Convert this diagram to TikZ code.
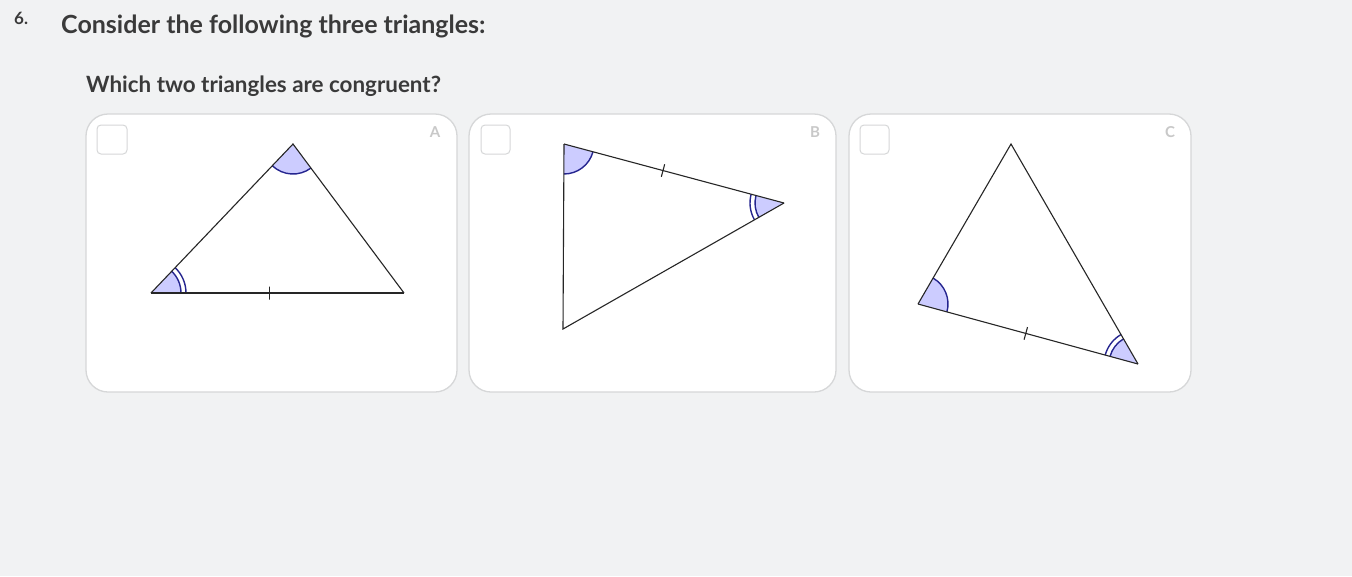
\documentclass[tikz,border=0pt]{standalone}
\usepackage{fontspec}
\setmainfont{Lato}
\definecolor{pagebg}{HTML}{F1F2F3}
\definecolor{cardline}{HTML}{D6D7D8}
\definecolor{textgray}{HTML}{3A3A3A}
\definecolor{lettergray}{HTML}{C8C8C8}
\definecolor{anglefill}{HTML}{CCCCFF}
\definecolor{arcblue}{HTML}{25258F}

\begin{document}
\begin{tikzpicture}[x=1pt, y=-1pt,
    card/.style={draw=cardline, line width=1.3pt, fill=white, rounded corners=22pt},
    checkbox/.style={draw=cardline, line width=1pt, fill=white, rounded corners=4pt},
    letter/.style={text=lettergray, inner sep=0pt, font=\fontsize{15}{15}\selectfont\bfseries},
    heading/.style={anchor=base west, inner sep=0pt, text=textgray},
    side/.style={draw=black!85, line width=1.1pt},
    arcline/.style={draw=arcblue, line width=1.4pt},
    tick/.style={draw=black!85, line width=1.1pt, sloped, inner sep=0pt, minimum width=0pt, minimum height=13pt}]
    % Page
    \fill[pagebg] (0,0) rectangle (1352,576);
    \useasboundingbox (0,0) rectangle (1352,576);

    % Question text
    \node[heading, font=\fontsize{17}{17}\selectfont\bfseries] (num) at (14,24) {6.};
    \node[heading, font=\fontsize{25}{25}\selectfont\bfseries] (title) at (61,33) {Consider the following three triangles:};
    \node[heading, font=\fontsize{22.4}{22.4}\selectfont\bfseries] (question) at (86,92) {Which two triangles are congruent?};

    % Cards
    \draw[card] (86,114) rectangle (457,392);
    \draw[card] (469,114) rectangle (836,392);
    \draw[card] (849,114) rectangle (1191,392);
    \draw[checkbox] (97,125) rectangle (127,154);
    \draw[checkbox] (481,125) rectangle (510,154);
    \draw[checkbox] (860,125) rectangle (889,154);
    \node[letter] (labA) at (435,132) {A};
    \node[letter] (labB) at (815,132) {B};
    \node[letter] (labC) at (1170,132) {C};

    % Triangle A
    \coordinate (AL) at (151,293);
    \coordinate (AT) at (293,144);
    \coordinate (AR) at (404,293);
    \fill[anglefill] (AL) -- ++(-46.4:30) arc[start angle=-46.4, end angle=0, radius=30] -- cycle;
    \fill[anglefill] (AT) -- ++(53.3:30) arc[start angle=53.3, end angle=133.6, radius=30] -- cycle;
    \draw[arcline] (AL) ++(-46.4:30) arc[start angle=-46.4, end angle=0, radius=30];
    \draw[arcline] (AL) ++(-46.4:35) arc[start angle=-46.4, end angle=0, radius=35];
    \draw[arcline] (AT) ++(53.3:30) arc[start angle=53.3, end angle=133.6, radius=30];
    \draw[side] (AL) -- (AT) -- (AR);
    \draw[side] (AL) -- (AR) node[tick, pos=0.47] (tickA) {};

    % Triangle B
    \coordinate (BP) at (564,144);
    \coordinate (BQ) at (784,203);
    \coordinate (BS) at (563,329);
    \fill[anglefill] (BP) -- ++(15.0:30) arc[start angle=15.0, end angle=90.3, radius=30] -- cycle;
    \fill[anglefill] (BQ) -- ++(150.3:29) arc[start angle=150.3, end angle=195.0, radius=29] -- cycle;
    \draw[arcline] (BP) ++(15.0:30) arc[start angle=15.0, end angle=90.3, radius=30];
    \draw[arcline] (BQ) ++(150.3:29) arc[start angle=150.3, end angle=195.0, radius=29];
    \draw[arcline] (BQ) ++(150.3:34) arc[start angle=150.3, end angle=195.0, radius=34];
    \draw[side] (BQ) -- (BS) -- (BP);
    \draw[side] (BP) -- (BQ) node[tick, pos=0.45] (tickB) {};

    % Triangle C
    \coordinate (CU) at (1011,144);
    \coordinate (CV) at (918,304);
    \coordinate (CW) at (1138,364);
    \fill[anglefill] (CV) -- ++(-59.8:30) arc[start angle=-59.8, end angle=15.3, radius=30] -- cycle;
    \fill[anglefill] (CW) -- ++(195.3:29) arc[start angle=195.3, end angle=240.0, radius=29] -- cycle;
    \draw[arcline] (CV) ++(-59.8:30) arc[start angle=-59.8, end angle=15.3, radius=30];
    \draw[arcline] (CW) ++(195.3:29) arc[start angle=195.3, end angle=240.0, radius=29];
    \draw[arcline] (CW) ++(195.3:34) arc[start angle=195.3, end angle=240.0, radius=34];
    \draw[side] (CV) -- (CU) -- (CW);
    \draw[side] (CV) -- (CW) node[tick, pos=0.49] (tickC) {};
\end{tikzpicture}
\end{document}
